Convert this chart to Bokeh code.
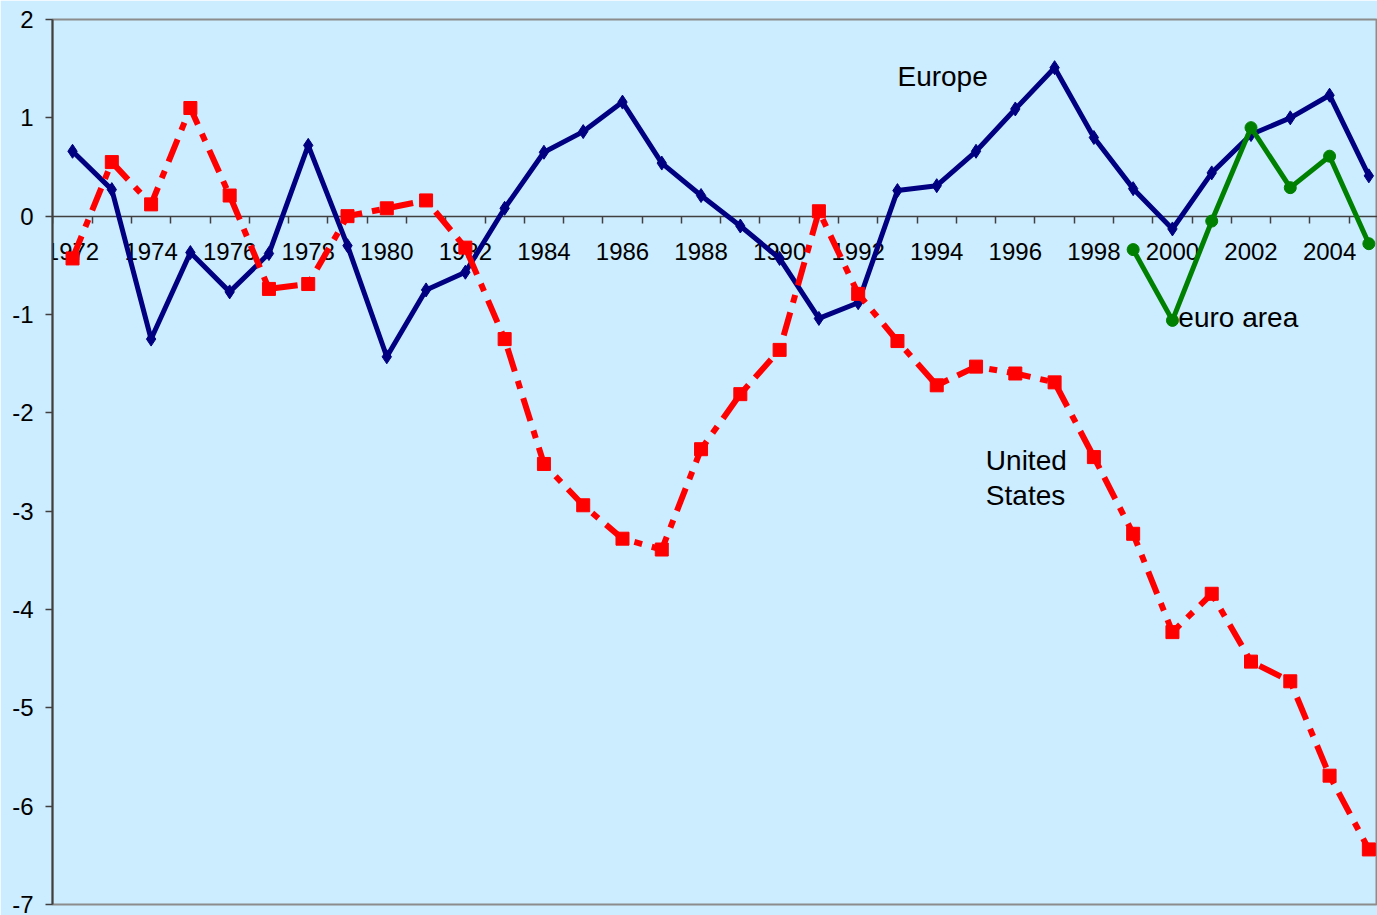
from bokeh.plotting import figure
from bokeh.models import FixedTicker, Range1d
from bokeh.core.properties import value
from bokeh.embed import file_html
from bokeh.resources import INLINE

years = list(range(1972, 2006))
europe = [0.66, 0.27, -1.25, -0.37, -0.77, -0.38, 0.72, -0.30, -1.43, -0.75,
          -0.57, 0.08, 0.65, 0.86, 1.16, 0.54, 0.21, -0.10, -0.43, -1.04,
          -0.88, 0.26, 0.31, 0.66, 1.09, 1.51, 0.80, 0.28, -0.13, 0.44,
          0.83, 1.00, 1.23, 0.41]
united_states = [-0.43, 0.55, 0.12, 1.10, 0.21, -0.74, -0.69, 0.00, 0.08, 0.16,
                 -0.32, -1.25, -2.52, -2.94, -3.28, -3.39, -2.37, -1.81, -1.36, 0.05,
                 -0.79, -1.27, -1.72, -1.53, -1.60, -1.69, -2.45, -3.23, -4.23, -3.84,
                 -4.53, -4.73, -5.69, -6.44]
euro_years = list(range(1999, 2006))
euro_area = [-0.34, -1.06, -0.05, 0.90, 0.29, 0.61, -0.28]

tick_label_years = list(range(1972, 2006, 2))
y_ticks = list(range(-7, 3))
y_tick_labels = {t: str(t) for t in y_ticks}

label_texts = ["Europe", "United", "States", "euro area"]
label_x = [1993.0, 1995.25, 1995.25, 2000.15]
label_y = [1.42, -2.48, -2.84, -1.03]

BG = "#CCECFF"
FONT = "Liberation Sans"

p = figure(width=1377, height=915, output_backend="svg", toolbar_location=None,
           x_range=Range1d(1971.49, 2005.22), y_range=Range1d(-7, 2),
           min_border_left=52, min_border_right=0, min_border_top=19, min_border_bottom=11,
           background_fill_color=BG, border_fill_color=BG)
p.grid.visible = False
p.outline_line_color = "#8c8c8c"
p.outline_line_width = 2

# x axis at y=0
xa = p.xaxis[0]
xa.fixed_location = 0
xa.ticker = FixedTicker(ticks=tick_label_years, minor_ticks=[y + 0.5 for y in range(1971, 2006)])
xa.axis_line_color = "#404040"
xa.axis_line_width = 1.5
xa.major_tick_out = 0
xa.major_tick_in = 0
xa.minor_tick_out = 7
xa.minor_tick_in = 0
xa.minor_tick_line_color = "#404040"
xa.minor_tick_line_width = 1.5
xa.major_label_standoff = 20
xa.major_label_text_font = FONT
xa.major_label_text_font_size = "24px"
xa.major_label_text_color = "black"

ya = p.yaxis[0]
ya.ticker = FixedTicker(ticks=y_ticks, minor_ticks=[])
ya.major_label_overrides = y_tick_labels
ya.axis_line_color = "#404040"
ya.axis_line_width = 2
ya.major_tick_out = 7
ya.major_tick_in = 0
ya.major_tick_line_color = "#404040"
ya.major_tick_line_width = 1.5
ya.major_label_standoff = 12
ya.major_label_text_font = FONT
ya.major_label_text_font_size = "24px"
ya.major_label_text_color = "black"

# Europe
p.line(years, europe, line_color="#000080", line_width=5, level="overlay")
p.scatter(years, europe, marker="diamond", size=14, fill_color="#000080",
          line_color="#000080", level="overlay")
# United States
p.line(years, united_states, line_color="#FF0000", line_width=6,
       line_dash="24 10 8 10", level="overlay")
p.scatter(years, united_states, marker="square", size=13, fill_color="#FF0000",
          line_color="#FF0000", level="overlay")
# euro area
p.line(euro_years, euro_area, line_color="#008000", line_width=5, level="overlay")
p.scatter(euro_years, euro_area, marker="circle", size=12, fill_color="#008000",
          line_color="#008000", level="overlay")

p.text(label_x, label_y, text=label_texts, text_font=value(FONT),
       text_font_size="28px", text_color="black", text_baseline="middle",
       text_align="left")

open("out.html", "w").write(file_html(p, INLINE))
